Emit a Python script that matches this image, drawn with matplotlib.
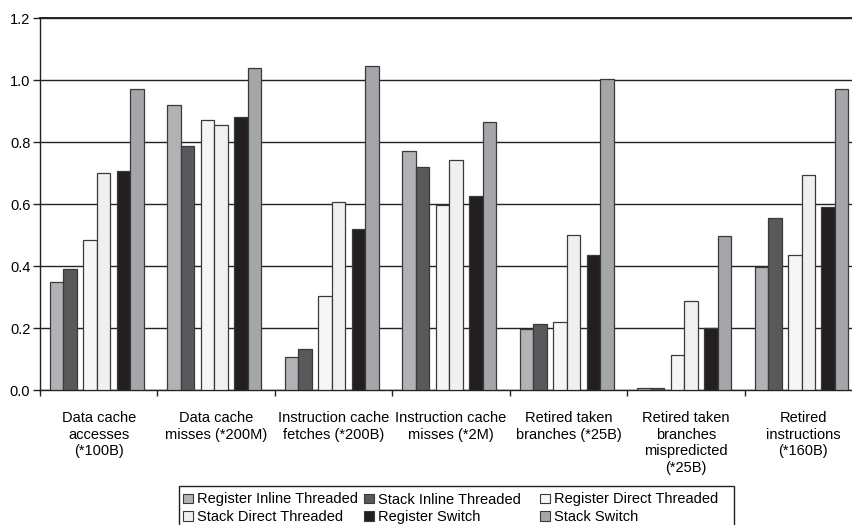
import numpy as np
import matplotlib
matplotlib.use("Agg")
import matplotlib.pyplot as plt
from matplotlib.patches import Patch, Rectangle

plt.rcParams['font.family'] = ['Liberation Sans', 'DejaVu Sans']

# categories on the x axis
categories = [
    "Data cache\naccesses\n(*100B)",
    "Data cache\nmisses (*200M)",
    "Instruction cache\nfetches (*200B)",
    "Instruction cache\nmisses (*2M)",
    "Retired taken\nbranches (*25B)",
    "Retired taken\nbranches\nmispredicted\n(*25B)",
    "Retired\ninstructions\n(*160B)",
]

# one list per interpreter variant
register_inline_threaded = [0.348, 0.921, 0.107, 0.773, 0.197, 0.005, 0.396]
stack_inline_threaded = [0.390, 0.788, 0.133, 0.719, 0.214, 0.005, 0.554]
register_direct_threaded = [0.484, 0.872, 0.304, 0.598, 0.221, 0.112, 0.435]
stack_direct_threaded = [0.702, 0.855, 0.606, 0.743, 0.500, 0.287, 0.693]
register_switch = [0.708, 0.882, 0.519, 0.627, 0.437, 0.199, 0.591]
stack_switch = [0.972, 1.038, 1.047, 0.866, 1.005, 0.497, 0.973]

series_names = ["Register Inline Threaded", "Stack Inline Threaded", "Register Direct Threaded",
                "Stack Direct Threaded", "Register Switch", "Stack Switch"]
series_values = [register_inline_threaded, stack_inline_threaded, register_direct_threaded,
                 stack_direct_threaded, register_switch, stack_switch]
colors = ["#b1b2b5", "#58595b", "#f6f6f6", "#eff0f2", "#231f20", "#a5a6a9"]

W, H = 853, 525
fig = plt.figure(figsize=(W / 100, H / 100), dpi=100)
# axes runs a bit past the right edge of the figure, like the original crop
ax = fig.add_axes([40 / W, 135 / H, 822 / W, 371.7 / H])

# bar left offsets inside each group (pairs of bars with a small gap)
bar_w = 0.115
offsets = [0.085, 0.200, 0.370, 0.485, 0.655, 0.770]
x = np.arange(len(categories))

for name, vals, col, off in zip(series_names, series_values, colors, offsets):
    ax.bar(x + off, vals, width=bar_w, align='edge', color=col,
           edgecolor="#3a3a3a", linewidth=0.9, label=name, zorder=3)

ax.set_xlim(0, len(categories))
ax.set_ylim(0, 1.2)
yt = np.arange(0, 1.21, 0.2)
ax.set_yticks(yt)
ax.set_yticklabels([f"{v:.1f}" for v in yt])

# gridlines
ax.yaxis.grid(True, color="#222222", linewidth=1.0, zorder=0)
ax.set_axisbelow(True)

# category labels between group ticks
ax.set_xticks(x + 0.5)
ax.set_xticklabels(categories, fontsize=10.5, linespacing=1.25)
ax.set_xticks(np.arange(0, len(categories) + 1), minor=True)
ax.tick_params(axis='x', which='major', length=0, pad=15)
ax.tick_params(axis='x', which='minor', length=4, width=1, color="#222222", direction='out')
ax.tick_params(axis='y', length=5, width=1, color="#222222", pad=2, labelsize=10.5)

for s in ["left", "bottom", "top"]:
    ax.spines[s].set_color("#222222")
    ax.spines[s].set_linewidth(1.0)
ax.spines["top"].set_linewidth(1.4)
ax.spines["right"].set_visible(False)

# legend: three single-column legends inside one frame (columns are spaced unevenly)
handles = [Patch(facecolor=c, edgecolor="#3a3a3a", linewidth=0.8) for c in colors]
col_x = [183.5, 364.5, 540.5]
for k, cx in enumerate(col_x):
    idx = [k, k + 3]
    fig.legend([handles[i] for i in idx], [series_names[i] for i in idx],
               loc='upper left', bbox_to_anchor=(cx / W, 1 - 492.5 / H),
               fontsize=10.5, frameon=False, handlelength=0.65, handleheight=0.65,
               handletextpad=0.3, labelspacing=0.25, borderpad=0, borderaxespad=0)

fig.add_artist(Rectangle((179 / W, 1 - 545 / H), 555 / W, 59 / H, transform=fig.transFigure,
                         facecolor="none", edgecolor="#222222", linewidth=1.0, clip_on=False))

fig.savefig("out.png", dpi=100)
